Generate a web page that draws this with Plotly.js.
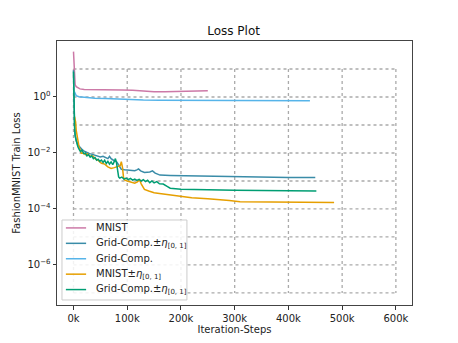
<!DOCTYPE html>
<html>
<head>
<meta charset="utf-8">
<script src="https://cdn.plot.ly/plotly-3.0.1.min.js"></script>
<style>
  html, body { margin: 0; padding: 0; background: #fff; }
  #plotArea { width: 458px; height: 343px; }
</style>
</head>
<body>
<div id="plotArea"></div>
<script>
// iteration steps are in thousands (ticks get a "k" suffix)
var mnistX = [0, 1, 2, 3, 5, 8, 12, 20, 30, 50, 70, 90, 110, 130, 150, 170, 190, 210, 230, 250];
var mnistY = [41.7, 10, 4, 2.8, 2.35, 2.1, 1.95, 1.86, 1.86, 1.86, 1.82, 1.78, 1.74, 1.62, 1.55, 1.55, 1.58, 1.62, 1.64, 1.66];

var gridX = [0, 2, 5, 10, 15, 25, 40, 60, 80, 100, 130, 160, 200, 250, 300, 350, 400, 440];
var gridY = [1.58, 1.5, 1.12, 1.02, 1.0, 0.955, 0.91, 0.89, 0.85, 0.79, 0.78, 0.76, 0.76, 0.75, 0.74, 0.74, 0.74, 0.74];

var gridEtaX = [0, 1, 2, 3, 5, 8, 12, 16, 20, 25, 30, 35, 40, 45, 50, 55, 60, 64, 67, 70, 75, 80, 85, 89, 95,
  105, 114, 118, 121, 125, 132, 142, 147, 152, 161, 180, 200, 250, 300, 350, 400, 450];
var gridEtaY = [9.1, 0.3, 0.1, 0.05, 0.028, 0.0195, 0.0158, 0.0132, 0.0117, 0.0102, 0.0095, 0.0089, 0.0083, 0.0079,
  0.0072, 0.0076, 0.0066, 0.0063, 0.0076, 0.0063, 0.0054, 0.0049, 0.0035, 0.0026, 0.0025,
  0.0024, 0.00234, 0.0025, 0.0027, 0.0023, 0.002, 0.0021, 0.0023, 0.0019, 0.00162, 0.00158, 0.00155,
  0.00145, 0.00138, 0.00135, 0.00133, 0.00132];

var mnistEtaX = [2, 4, 5, 7, 10, 14.5, 18, 22, 26, 30, 36, 40, 45, 52, 58, 64, 70, 76, 83, 87, 89, 91, 93, 95,
  100, 107, 114, 119, 123, 126, 132, 140, 150, 160, 170, 180, 194, 220, 250, 266, 290, 310, 350, 400, 450, 485];
var mnistEtaY = [0.2, 0.126, 0.066, 0.032, 0.0178, 0.0098, 0.01, 0.0087, 0.0093, 0.0079, 0.0078, 0.0063, 0.0056,
  0.0043, 0.004, 0.0032, 0.0028, 0.003, 0.0032, 0.0035, 0.0049, 0.0032, 0.0014, 0.0011,
  0.001, 0.00089, 0.00083, 0.00093, 0.0011, 0.00079, 0.0005, 0.00044, 0.00038, 0.00036, 0.00034, 0.00032,
  0.00028, 0.00025, 0.00023, 0.00022, 0.0002, 0.00018, 0.000178, 0.000174, 0.00017, 0.00017];

var gridEta2X = [0, 1, 2, 3, 5, 8, 10, 13, 16, 19, 22, 25, 28, 31, 34, 37, 40, 43, 46, 49, 52, 55, 58, 61, 64,
  67, 70, 73, 76, 78, 80, 82, 84, 86, 90, 94, 98, 102, 106, 110, 114, 118, 122, 126, 130, 134, 138,
  142, 146, 150, 155, 160, 167, 175, 180, 200, 230, 266, 300, 350, 400, 452];
var gridEta2Y = [7.9, 0.25, 0.08, 0.04, 0.025, 0.017, 0.014, 0.0112, 0.0126, 0.0095, 0.01, 0.0079, 0.0087, 0.0071,
  0.0079, 0.0063, 0.0069, 0.0055, 0.006, 0.005, 0.0056, 0.0046, 0.0055, 0.0042, 0.005,
  0.004, 0.0048, 0.0038, 0.005, 0.0063, 0.0045, 0.00186, 0.0014, 0.00126, 0.00138, 0.00117, 0.00126,
  0.00112, 0.00123, 0.00107, 0.00117, 0.00105, 0.00115, 0.001, 0.00112, 0.00095, 0.00107,
  0.00087, 0.001, 0.00085, 0.00095, 0.00079, 0.00078, 0.00063, 0.00055, 0.00051, 0.00049, 0.00048,
  0.00047, 0.00046, 0.00045, 0.00044];

var xGridVals = [0, 100, 200, 300, 400, 500, 600];
var xTickText = ["0k", "100k", "200k", "300k", "400k", "500k", "600k"];
var yGridVals = [1e1, 1e0, 1e-1, 1e-2, 1e-3, 1e-4, 1e-5, 1e-6, 1e-7];
var yTickVals = [1, 1e-2, 1e-4, 1e-6];
var yTickText = ["10<sup>0</sup>", "10<sup>\u22122</sup>", "10<sup>\u22124</sup>", "10<sup>\u22126</sup>"];

var etaLabel = "\u00b1<i>\u03b7</i><sub>[0, 1]</sub>";
var seriesNames = ["MNIST", "Grid-Comp." + etaLabel, "Grid-Comp.", "MNIST" + etaLabel, "Grid-Comp." + etaLabel];
var seriesColors = ["#CC79A7", "#3a8ca8", "#56B4E9", "#E69F00", "#009E73"];
var seriesX = [mnistX, gridEtaX, gridX, mnistEtaX, gridEta2X];
var seriesY = [mnistY, gridEtaY, gridY, mnistEtaY, gridEta2Y];

var traces = seriesX.map(function (x, i) {
  return {x: x, y: seriesY[i], name: seriesNames[i], type: "scatter", mode: "lines",
          line: {color: seriesColors[i], width: 1.5}};
});

// dotted grid that only spans the data region, like the original
var gridStyle = {color: "#aaaaaa", width: 1.3, dash: "dot"};
var yTop = yGridVals[0], yBottom = yGridVals[yGridVals.length - 1];
var xLeft = xGridVals[0], xRight = xGridVals[xGridVals.length - 1];
var shapes = [];
xGridVals.forEach(function (v) {
  shapes.push({type: "line", xref: "x", yref: "y", x0: v, x1: v, y0: yTop, y1: yBottom, line: gridStyle, layer: "below"});
});
yGridVals.forEach(function (v) {
  shapes.push({type: "line", xref: "x", yref: "y", x0: xLeft, x1: xRight, y0: v, y1: v, line: gridStyle, layer: "below"});
});

// hand-made legend box (plotly's own legend rows are too tall with subscripts)
var annotations = [];
shapes.push({type: "rect", xref: "paper", yref: "paper", x0: 0.014, x1: 0.366, y0: 0.019, y1: 0.322,
             fillcolor: "rgba(255,255,255,0.85)", line: {color: "#cccccc", width: 1}, layer: "above"});
var rowTop = 0.292, rowStep = 0.0584;
seriesNames.forEach(function (name, i) {
  var yy = rowTop - i * rowStep;
  shapes.push({type: "line", xref: "paper", yref: "paper", x0: 0.025, x1: 0.082, y0: yy, y1: yy,
               line: {color: seriesColors[i], width: 1.5}, layer: "above"});
  annotations.push({xref: "paper", yref: "paper", x: 0.104, y: yy, xanchor: "left", yanchor: "middle",
                    text: name, showarrow: false, font: {size: 10, color: "#222"}});
});

var layout = {
  width: 458, height: 343,
  margin: {l: 57, r: 46, t: 41, b: 38},
  paper_bgcolor: "#fff", plot_bgcolor: "#fff",
  font: {family: "DejaVu Sans", size: 10, color: "#222"},
  title: {text: "Loss Plot", x: 0.51, xanchor: "center", y: 0.91, yanchor: "middle",
          font: {size: 12, color: "#111"}},
  xaxis: {
    title: {text: "Iteration-Steps", standoff: 2, font: {size: 10}},
    range: [-30.7, 630], showgrid: false, zeroline: false,
    tickvals: xGridVals, ticktext: xTickText, ticks: "outside", ticklen: 3.5, tickcolor: "#333",
    showline: true, mirror: true, linecolor: "#444", linewidth: 1
  },
  yaxis: {
    title: {text: "FashionMNIST Train Loss", standoff: 4, font: {size: 10}},
    type: "log", range: [-7.43, 2.0], showgrid: false, zeroline: false,
    tickvals: yTickVals, ticktext: yTickText, ticks: "outside", ticklen: 3.5, tickcolor: "#333",
    showline: true, mirror: true, linecolor: "#444", linewidth: 1
  },
  shapes: shapes,
  annotations: annotations,
  showlegend: false
};

Plotly.newPlot("plotArea", traces, layout, {staticPlot: true, displayModeBar: false});
</script>
</body>
</html>
